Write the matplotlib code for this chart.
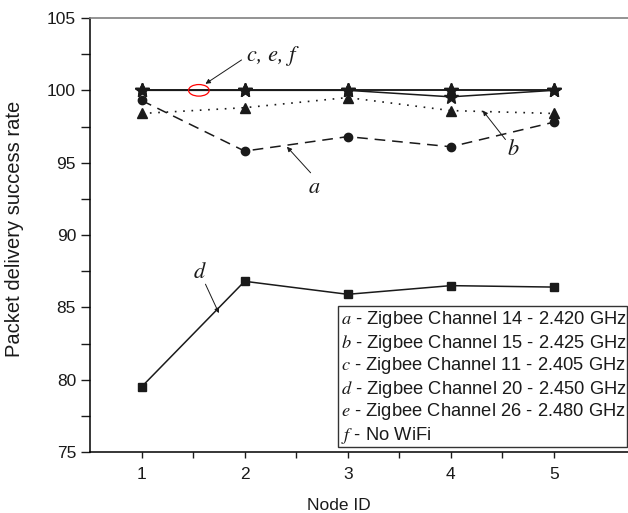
import matplotlib
matplotlib.use('Agg')
import matplotlib.pyplot as plt
from matplotlib.patches import Ellipse, Rectangle

plt.rcParams['font.family'] = ['Liberation Sans', 'DejaVu Sans']
plt.rcParams['mathtext.fontset'] = 'stix'

# Data
nodes = [1, 2, 3, 4, 5]
rate_a = [99.3, 95.8, 96.8, 96.1, 97.8]   # channel 14
rate_b = [98.4, 98.8, 99.5, 98.6, 98.4]   # channel 15
rate_c = [100.0, 100.0, 100.0, 100.0, 100.0]  # channel 11
rate_d = [79.5, 86.8, 85.9, 86.5, 86.4]   # channel 20
rate_e = [100.0, 100.0, 100.0, 99.55, 100.0]  # channel 26
rate_f = [100.0, 100.0, 100.0, 100.0, 100.0]  # no wifi

legend_lines = [
    r'$a$ - Zigbee Channel 14 - 2.420 GHz',
    r'$b$ - Zigbee Channel 15 - 2.425 GHz',
    r'$c$ - Zigbee Channel 11 - 2.405 GHz',
    r'$d$ - Zigbee Channel 20 - 2.450 GHz',
    r'$e$ - Zigbee Channel 26 - 2.480 GHz',
    r'$f$ - No WiFi',
]

W, H = 628, 513
fig = plt.figure(figsize=(W / 100, H / 100), dpi=100)
ax_l, ax_r, ax_t, ax_b = 90, 657, 18, 452
ax = fig.add_axes([ax_l / W, (H - ax_b) / H, (ax_r - ax_l) / W, (ax_b - ax_t) / H])

K = '#1a1a1a'
ax.plot(nodes, rate_a, color=K, lw=1.1, ls=(0, (7, 4.5)), marker='o', ms=6, zorder=3)
ax.plot(nodes, rate_b, color=K, lw=1.2, ls=(0, (1, 4)), marker='^', ms=7, zorder=3)
ax.plot(nodes, rate_d, color=K, lw=1.1, marker='s', ms=5.5, zorder=3)
for s in (rate_c, rate_e, rate_f):
    ax.plot(nodes, s, color=K, lw=1.1, marker='*', ms=10, zorder=4)

ax.set_xlim(0.5, 6.0)
ax.set_ylim(75, 105)
ax.set_xticks([1, 2, 3, 4, 5])
ax.set_xticks([1.5, 2.5, 3.5, 4.5], minor=True)
ax.set_yticks([75, 80, 85, 90, 95, 100, 105])
ax.set_yticks([77.5, 82.5, 87.5, 92.5, 97.5, 102.5], minor=True)
ax.tick_params(axis='y', which='major', direction='out', length=6.5, width=1, labelsize=12.5, colors=K)
ax.tick_params(axis='y', which='minor', direction='out', length=6.5, width=1, colors=K)
ax.tick_params(axis='x', which='major', direction='out', length=4, width=1, labelsize=12.5, colors=K, pad=7)
ax.tick_params(axis='x', which='minor', direction='out', length=4, width=1, colors=K)

ax.spines['right'].set_visible(False)
ax.spines['top'].set_color('#808080')
ax.spines['top'].set_linewidth(1.2)
ax.spines['left'].set_linewidth(1.1)
ax.spines['bottom'].set_linewidth(1.1)

ax.set_xlabel('Node ID', fontsize=12.5, color=K)
ax.set_ylabel('Packet delivery success rate', fontsize=14.5, color=K)
aw, ah = ax_r - ax_l, ax_b - ax_t
ax.xaxis.set_label_coords((339 - ax_l) / aw, -(505 - ax_b) / ah)
ax.xaxis.label.set_va('center')
ax.yaxis.set_label_coords(-(ax_l - 15) / aw, (ax_b - 229) / ah)
ax.yaxis.label.set_va('center')

# annotations
ann_font = dict(family='STIXGeneral', style='italic', fontsize=16, color=K)
arr = dict(arrowstyle='-|>', color=K, lw=0.7, mutation_scale=7, shrinkA=0, shrinkB=0)
ax.add_patch(Ellipse((1.556, 100.0), 0.2, 0.8, fill=False, edgecolor='red', lw=0.9, zorder=5))
ax.annotate('', xy=(1.62, 100.45), xytext=(1.97, 102.1), arrowprops=arr)
ax.text(2.02, 102.4, 'c, e, f', ha='left', va='center', **ann_font)

ax.annotate('', xy=(2.41, 96.1), xytext=(2.64, 94.3), arrowprops=arr)
ax.text(2.67, 93.3, 'a', ha='center', va='center', **ann_font)

ax.annotate('', xy=(4.31, 98.6), xytext=(4.53, 96.6), arrowprops=arr)
ax.text(4.6, 95.9, 'b', ha='center', va='center', **ann_font)

ax.annotate('', xy=(1.75, 84.6), xytext=(1.62, 86.6), arrowprops=arr)
ax.text(1.56, 87.4, 'd', ha='center', va='center', **ann_font)

# legend box
bx0, bx1, by_top, by_bot = 338, 627, 306, 447
ax.add_patch(Rectangle(((bx0 - ax_l) / aw, (ax_b - by_bot) / ah),
                       (bx1 - bx0) / aw, (by_bot - by_top) / ah,
                       transform=ax.transAxes, fill=True, facecolor='white',
                       edgecolor='#333333', lw=1.0, zorder=6))
for i, line in enumerate(legend_lines):
    yc = 320 + 23 * i
    ax.text((341 - ax_l) / aw, (ax_b - yc) / ah, line, transform=ax.transAxes,
            ha='left', va='center', fontsize=13.2, color=K, zorder=7)

fig.savefig('out.png', dpi=100)
